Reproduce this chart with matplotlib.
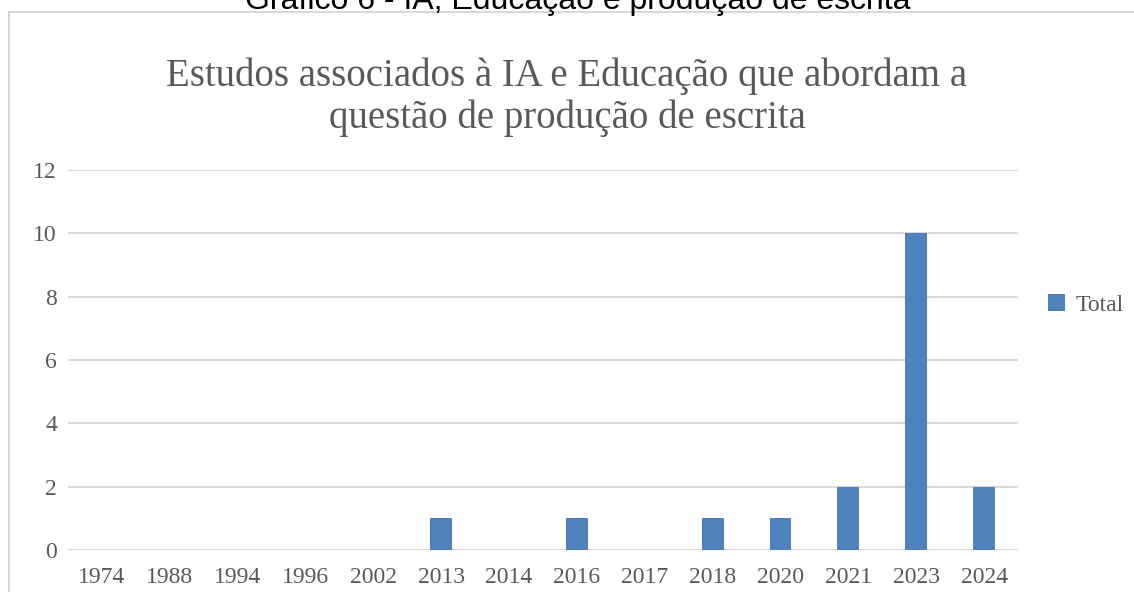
import matplotlib
matplotlib.use("Agg")
import matplotlib.pyplot as plt
from matplotlib.patches import Rectangle

years = ["1974", "1988", "1994", "1996", "2002", "2013", "2014", "2016",
         "2017", "2018", "2020", "2021", "2023", "2024"]
totals = [0, 0, 0, 0, 0, 1, 0, 1, 0, 1, 1, 2, 10, 2]
yticks = [0, 2, 4, 6, 8, 10, 12]
series_name = "Total"
title = "Estudos associados à IA e Educação que abordam a\nquestão de produção de escrita"
caption = "Gráfico 6 - IA, Educação e produção de escrita"

W, H = 1134, 592
fig = plt.figure(figsize=(W / 100, H / 100), dpi=100)
fig.patch.set_facecolor("white")

# outer chart border
fig.patches.append(Rectangle((9 / W, -0.1), 1.2, 1 - 12 / H + 0.1, transform=fig.transFigure,
                             fill=False, edgecolor="#d9d9d9", linewidth=1.5))

fig.text(578 / W, 1 - 8.5 / H, caption, ha="center", va="baseline",
         fontsize=23, family="Liberation Sans", color="#000000")

serif = "Liberation Serif"
gray = "#595959"

ax = fig.add_axes([68 / W, 1 - 550 / H, (1018 - 68) / W, (550 - 170) / H])
x = list(range(len(years)))
bars = ax.bar(x, totals, width=0.32, color="#4f81bd", label=series_name, zorder=3)
ax.set_xlim(-0.5, len(years) - 0.5)
ax.set_ylim(0, 12)
ax.set_yticks(yticks)
ax.set_yticklabels([str(v) for v in yticks], fontsize=17, family=serif, color=gray)
ax.set_xticks(x)
ax.set_xticklabels(years, fontsize=17, family=serif, color=gray)
ax.tick_params(axis="both", length=0)
ax.tick_params(axis="x", pad=12)
ax.tick_params(axis="y", pad=8)
ax.grid(axis="y", color="#d9d9d9", linewidth=1.5, zorder=0)
for s in ax.spines.values():
    s.set_visible(False)

fig.text(0.5, 1 - 97 / H, title, ha="center", va="center", fontsize=28,
         family=serif, color=gray, linespacing=1.15)

leg = fig.legend(handles=[bars], labels=[series_name], loc="center left",
                 bbox_to_anchor=(1027 / W, 1 - 305 / H), frameon=False,
                 prop={"family": serif, "size": 17}, handlelength=0.7, handleheight=0.7,
                 handletextpad=0.45)
for t in leg.get_texts():
    t.set_color(gray)

fig.savefig("out.png", dpi=100)
